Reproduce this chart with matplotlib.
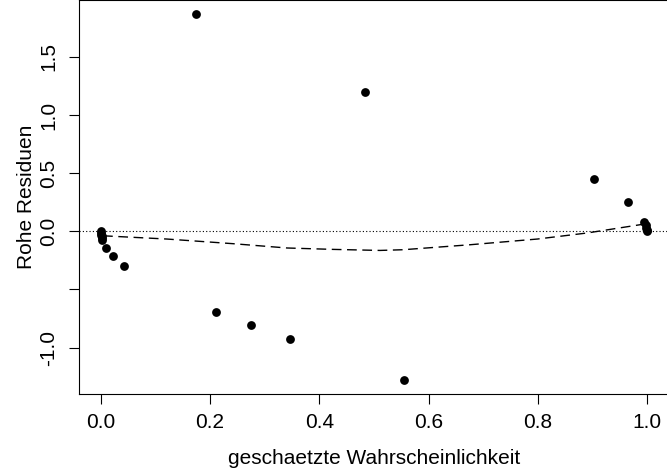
import matplotlib
matplotlib.use("Agg")
import matplotlib.pyplot as plt

# geschaetzte Wahrscheinlichkeit und rohe Residuen
p_hat = [0.0002, 0.0005, 0.0008, 0.0012, 0.0018, 0.0025, 0.009, 0.022, 0.042,
         0.174, 0.211, 0.275, 0.346, 0.4835, 0.555,
         0.903, 0.965, 0.995, 0.997, 0.998, 0.999, 0.9995]
resid = [0.0, -0.015, -0.03, -0.045, -0.06, -0.075, -0.146, -0.214, -0.30,
         1.865, -0.694, -0.806, -0.925, 1.20, -1.277,
         0.446, 0.249, 0.077, 0.05, 0.03, 0.015, 0.005]

# lowess Glaettung
smooth_x = [0.004, 0.121, 0.242, 0.341, 0.425, 0.511, 0.553, 0.676, 0.799, 0.890, 0.995]
smooth_y = [-0.039, -0.067, -0.107, -0.144, -0.156, -0.165, -0.159, -0.116, -0.067, -0.015, 0.062]

plt.rcParams['font.family'] = ['Liberation Sans', 'DejaVu Sans']

fig = plt.figure(figsize=(6.67, 4.73), dpi=100)
ax = fig.add_axes([79 / 667, 79 / 473, 590 / 667, 393.5 / 473])

ax.scatter(p_hat, resid, s=40, color='black', zorder=3, linewidths=0)
ax.axhline(0, color='black', linestyle=(0, (1, 2)), linewidth=0.8)
ax.plot(smooth_x, smooth_y, color='black', linestyle=(0, (7, 4)), linewidth=1)

ax.set_xlim(-0.04, 1.04)
ax.set_ylim(-1.40, 1.985)

ax.set_xticks([0.0, 0.2, 0.4, 0.6, 0.8, 1.0])
ax.set_xticklabels(['0.0', '0.2', '0.4', '0.6', '0.8', '1.0'])
ax.set_yticks([-1.0, -0.5, 0.0, 0.5, 1.0, 1.5])
ax.set_yticklabels(['-1.0', '', '0.0', '0.5', '1.0', '1.5'], rotation=90, va='center')

ax.tick_params(direction='out', length=7, width=0.8, labelsize=15)
ax.tick_params(axis='x', pad=7)
ax.tick_params(axis='y', pad=8)
for s in ax.spines.values():
    s.set_linewidth(0.8)

ax.set_xlabel('geschaetzte Wahrscheinlichkeit', fontsize=15, labelpad=12)
ax.set_ylabel('Rohe Residuen', fontsize=15, labelpad=2)

fig.savefig('out.png', dpi=100)
